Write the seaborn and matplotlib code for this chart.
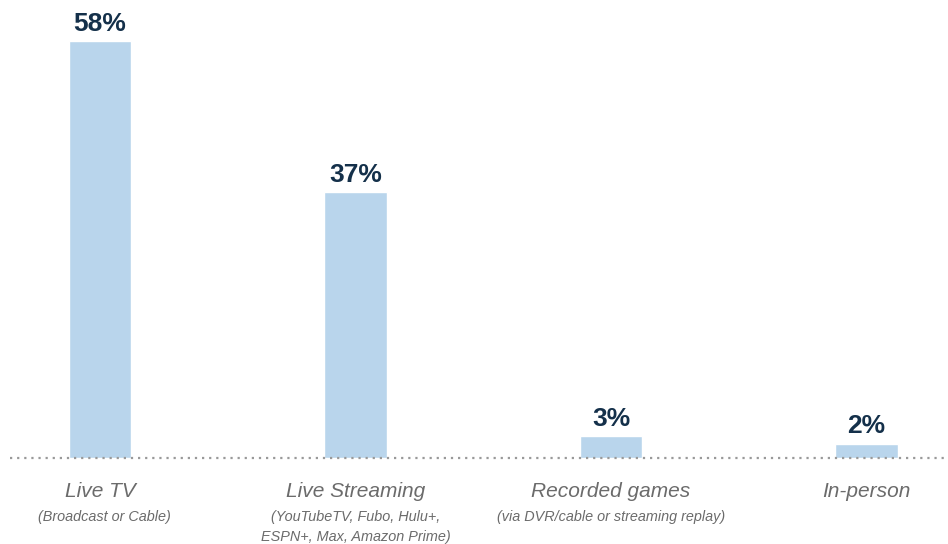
import matplotlib
matplotlib.use("Agg")
import matplotlib.pyplot as plt
import seaborn as sns
import pandas as pd

categories = ["Live TV", "Live Streaming", "Recorded games", "In-person"]
subtitles = [
    "(Broadcast or Cable)",
    "(YouTubeTV, Fubo, Hulu+,\nESPN+, Max, Amazon Prime)",
    "(via DVR/cable or streaming replay)",
    "",
]
shares = [58, 37, 3, 2]

df = pd.DataFrame({"category": categories, "share": shares})

sns.set_theme(style="white")
plt.rcParams["font.family"] = ["Liberation Sans", "DejaVu Sans"]

fig = plt.figure(figsize=(9.48, 5.44), dpi=100)
ax = fig.add_axes([10 / 948, 86 / 544, 938 / 948, 458 / 544])

bar_color = "#b9d5ec"
sns.barplot(data=df, x="category", y="share", color=bar_color,
            width=0.243, saturation=1, ax=ax, order=categories)

ax.set_xlim(-0.352, 3.319)
ax.set_ylim(0, 63.7)
for s in ax.spines.values():
    s.set_visible(False)
ax.set_xticks([])
ax.set_yticks([])
ax.set_xlabel("")
ax.set_ylabel("")

# dotted baseline
ax.axhline(0, color="#999999", lw=1.6, ls=(0, (1, 2.2)), clip_on=False, zorder=3)

# value labels above each bar
for i, v in enumerate(shares):
    ax.annotate(f"{v}%", (i, v), xytext=(0, 7.3), textcoords="offset points",
                ha="center", va="baseline", fontsize=19, fontweight="bold",
                color="#14304a")

# category names and notes beneath the axis
sub_dx = [3.5, 0, 0, 0]
for i, (name, sub) in enumerate(zip(categories, subtitles)):
    ax.annotate(name, (i, 0), xytext=(0, -24), textcoords="offset points",
                ha="center", va="center", fontsize=15, style="italic",
                color="#6b6b6b", annotation_clip=False)
    if sub:
        ax.annotate(sub, (i, 0), xytext=(sub_dx[i], -37.5), textcoords="offset points",
                    ha="center", va="top", fontsize=10.4, style="italic",
                    color="#6b6b6b", linespacing=1.55, annotation_clip=False)

fig.savefig("out.png", dpi=100)
